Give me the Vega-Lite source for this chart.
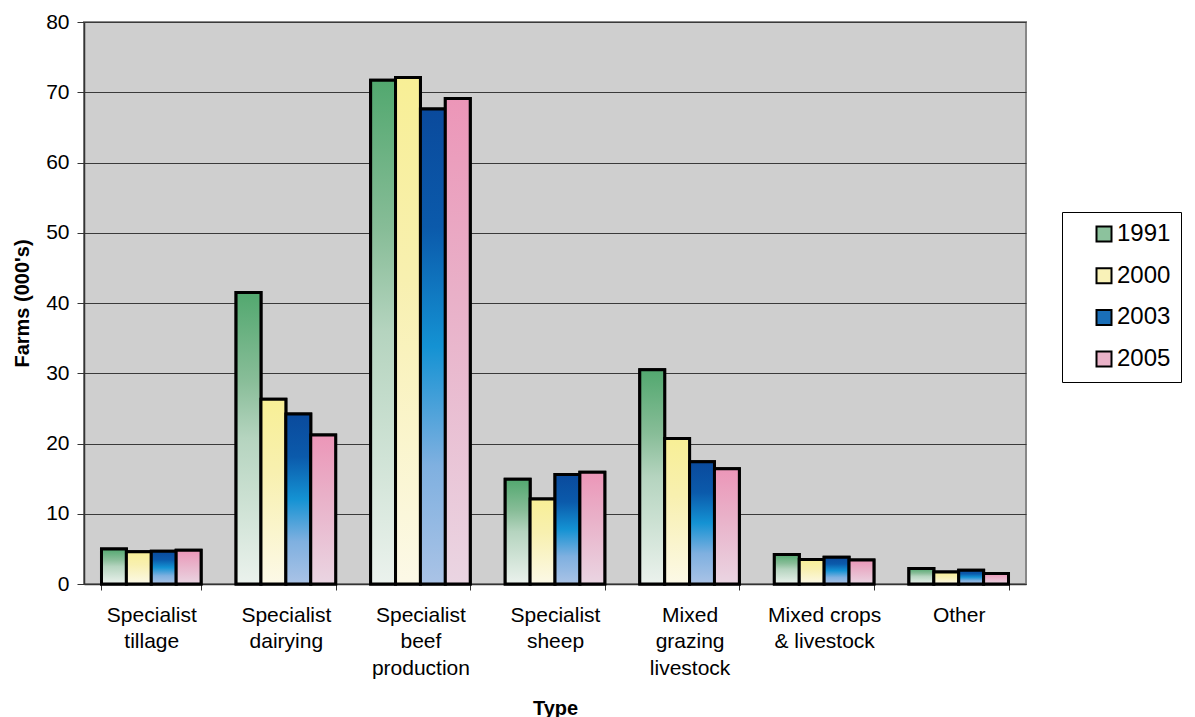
{
  "$schema": "https://vega.github.io/schema/vega-lite/v6.json",
  "width": 942,
  "height": 562,
  "autosize": {"type": "none"},
  "padding": {"left": 84, "top": 22, "right": 169, "bottom": 133},
  "background": "white",
  "config": {
    "font": "Liberation Sans",
    "view": {"fill": "#cfcfcf", "stroke": "#888888", "strokeWidth": 2},
    "axis": {"labelColor": "black", "titleColor": "black", "labelFont": "Liberation Sans", "titleFont": "Liberation Sans"}
  },
  "data": {
    "values": [
      {"type": "Specialist tillage", "year": "1991", "farms": 5.0},
      {"type": "Specialist tillage", "year": "2000", "farms": 4.6},
      {"type": "Specialist tillage", "year": "2003", "farms": 4.65},
      {"type": "Specialist tillage", "year": "2005", "farms": 4.8},
      {"type": "Specialist dairying", "year": "1991", "farms": 41.5},
      {"type": "Specialist dairying", "year": "2000", "farms": 26.3},
      {"type": "Specialist dairying", "year": "2003", "farms": 24.2},
      {"type": "Specialist dairying", "year": "2005", "farms": 21.2},
      {"type": "Specialist beef production", "year": "1991", "farms": 71.7},
      {"type": "Specialist beef production", "year": "2000", "farms": 72.1},
      {"type": "Specialist beef production", "year": "2003", "farms": 67.6},
      {"type": "Specialist beef production", "year": "2005", "farms": 69.1},
      {"type": "Specialist sheep", "year": "1991", "farms": 14.9},
      {"type": "Specialist sheep", "year": "2000", "farms": 12.1},
      {"type": "Specialist sheep", "year": "2003", "farms": 15.6},
      {"type": "Specialist sheep", "year": "2005", "farms": 15.9},
      {"type": "Mixed grazing livestock", "year": "1991", "farms": 30.5},
      {"type": "Mixed grazing livestock", "year": "2000", "farms": 20.7},
      {"type": "Mixed grazing livestock", "year": "2003", "farms": 17.4},
      {"type": "Mixed grazing livestock", "year": "2005", "farms": 16.4},
      {"type": "Mixed crops & livestock", "year": "1991", "farms": 4.2},
      {"type": "Mixed crops & livestock", "year": "2000", "farms": 3.5},
      {"type": "Mixed crops & livestock", "year": "2003", "farms": 3.8},
      {"type": "Mixed crops & livestock", "year": "2005", "farms": 3.4},
      {"type": "Other", "year": "1991", "farms": 2.2},
      {"type": "Other", "year": "2000", "farms": 1.7},
      {"type": "Other", "year": "2003", "farms": 1.95},
      {"type": "Other", "year": "2005", "farms": 1.5}
    ]
  },
  "encoding": {
    "x": {
      "field": "type",
      "type": "nominal",
      "sort": ["Specialist tillage", "Specialist dairying", "Specialist beef production", "Specialist sheep", "Mixed grazing livestock", "Mixed crops & livestock", "Other"],
      "scale": {"paddingInner": 0.26, "paddingOuter": 0.13},
      "axis": {
        "title": "Type",
        "titleFontSize": 20,
        "titleFontWeight": "bold",
        "titleY": 124,
        "titleBaseline": "middle",
        "labelAngle": 0,
        "labelFontSize": 21,
        "labelLineHeight": 26.7,
        "labelPadding": 14,
        "labelBaseline": "top",
        "labelExpr": "!isValid(datum.value) ? '' : datum.value == 'Mixed crops & livestock' ? ['Mixed crops', '& livestock'] : split(datum.value, ' ')",
        "tickBand": "extent",
        "tickSize": 6,
        "tickColor": "#333333",
        "domainColor": "#333333",
        "domainWidth": 1.5,
        "grid": false
      }
    },
    "xOffset": {"field": "year", "type": "nominal"},
    "y": {
      "field": "farms",
      "type": "quantitative",
      "scale": {"domain": [0, 80], "nice": false},
      "axis": {
        "title": "Farms (000's)",
        "titleFontSize": 20,
        "titleFontWeight": "bold",
        "titleX": -61.5,
        "titleY": 281,
        "titleAngle": -90,
        "titleBaseline": "middle",
        "titleAlign": "center",
        "values": [0, 10, 20, 30, 40, 50, 60, 70, 80],
        "labelFontSize": 21,
        "labelPadding": 8,
        "tickSize": 7,
        "tickColor": "#333333",
        "domainColor": "#333333",
        "domainWidth": 1.5,
        "grid": true,
        "gridColor": "#3a3a3a",
        "gridWidth": 1
      }
    }
  },
  "layer": [
    {
      "mark": {"type": "bar", "stroke": "black", "strokeWidth": 3},
      "encoding": {
        "color": {
          "field": "year",
          "type": "nominal",
          "scale": {"domain": ["1991", "2000", "2003", "2005"], "range": ["#8cc29d", "#f9f2b8", "#1a6fb8", "#eab2c8"]},
          "legend": {
            "title": null,
            "orient": "none",
            "legendX": 978,
            "legendY": 190,
            "padding": 10,
            "strokeColor": "black",
            "fillColor": "white",
            "symbolType": "square",
            "symbolSize": 225,
            "symbolStrokeColor": "black",
            "symbolStrokeWidth": 2,
            "symbolOffset": 20,
            "labelFontSize": 24,
            "labelFont": "Liberation Sans",
            "labelColor": "black",
            "labelOffset": 1,
            "rowPadding": 17.7,
            "labelExpr": "datum.label + '\u00a0\u00a0\u00a0\u00a0\u00a0\u00a0'"
          }
        }
      }
    },
    {
      "mark": {"type": "bar", "stroke": "black", "strokeWidth": 3},
      "encoding": {
        "fill": {
          "condition": [
            {"test": "datum.year === '1991'", "value": {"gradient": "linear", "x1": 0, "y1": 0, "x2": 0, "y2": 1, "stops": [{"offset": 0, "color": "#52a86f"}, {"offset": 0.3, "color": "#88bd98"}, {"offset": 0.5, "color": "#b5d4bf"}, {"offset": 1, "color": "#ebf2ed"}]}},
            {"test": "datum.year === '2000'", "value": {"gradient": "linear", "x1": 0, "y1": 0, "x2": 0, "y2": 1, "stops": [{"offset": 0, "color": "#f8ef96"}, {"offset": 0.4, "color": "#f8f0b0"}, {"offset": 1, "color": "#fcf9e7"}]}},
            {"test": "datum.year === '2003'", "value": {"gradient": "linear", "x1": 0, "y1": 0, "x2": 0, "y2": 1, "stops": [{"offset": 0, "color": "#0a4a9c"}, {"offset": 0.25, "color": "#0b5aab"}, {"offset": 0.5, "color": "#1492d3"}, {"offset": 0.75, "color": "#7fb0e0"}, {"offset": 1, "color": "#aac3e6"}]}}
          ],
          "value": {"gradient": "linear", "x1": 0, "y1": 0, "x2": 0, "y2": 1, "stops": [{"offset": 0, "color": "#ec96b8"}, {"offset": 0.4, "color": "#e9b0c8"}, {"offset": 1, "color": "#ead5e2"}]}
        }
      }
    }
  ]
}
